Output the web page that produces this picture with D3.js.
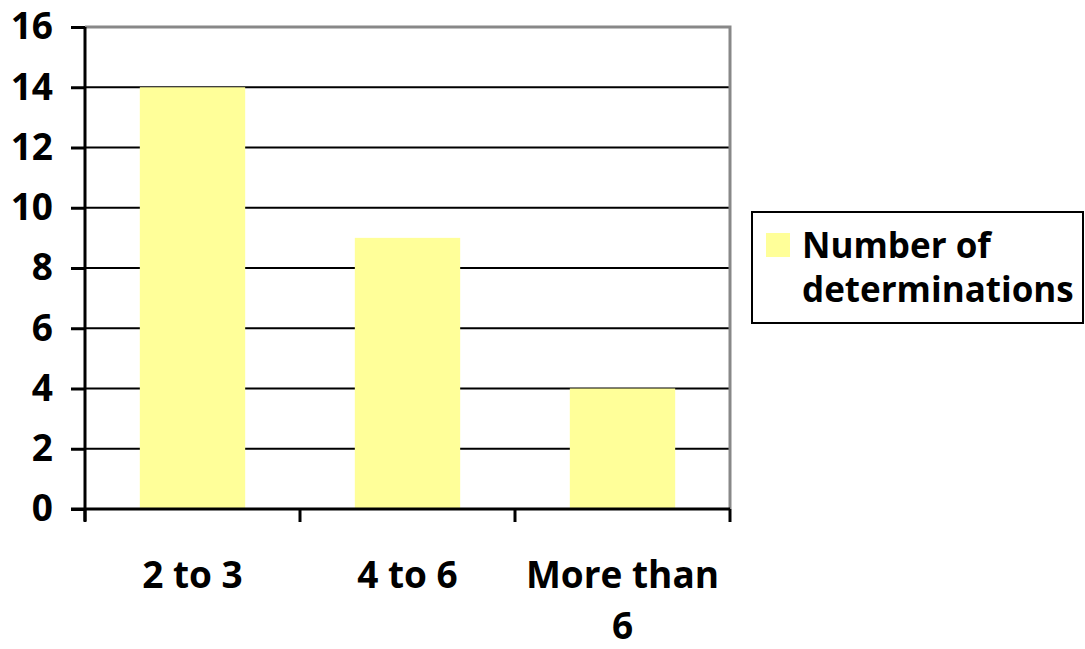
<!DOCTYPE html>
<html>
<head>
<meta charset="utf-8">
<script src="https://cdn.jsdelivr.net/npm/d3@7"></script>
<style>
  html, body { margin: 0; padding: 0; background: #fff; }
  svg { display: block; }
  text { font-family: "Open Sans", "Liberation Sans", sans-serif; font-weight: 700; fill: #000; }
</style>
</head>
<body>
<svg id="chart" width="1085" height="649"></svg>
<script>
// Data
const categories = [["2 to 3"], ["4 to 6"], ["More than", "6"]];
const categoryKeys = ["2 to 3", "4 to 6", "More than 6"];
const values = [14, 9, 4];
const yTicks = [0, 2, 4, 6, 8, 10, 12, 14, 16];
const seriesName = ["Number of", "determinations"];

const svg = d3.select("#chart");
const plot = { left: 85, right: 730, top: 27, bottom: 509 };

const x = d3.scaleBand()
  .domain(categoryKeys)
  .range([plot.left, plot.right])
  .paddingInner(0.51)
  .paddingOuter(0.255);

const step = x.step();

const y = d3.scaleLinear().domain([0, 16]).range([plot.bottom, plot.top]);

// Horizontal gridlines
svg.append("g")
  .selectAll("line")
  .data(yTicks.filter(d => d > 0 && d < 16))
  .join("line")
  .attr("x1", plot.left).attr("x2", plot.right)
  .attr("y1", d => y(d)).attr("y2", d => y(d))
  .attr("stroke", "#000").attr("stroke-width", 2);

// Bars
svg.append("g")
  .selectAll("rect")
  .data(values)
  .join("rect")
  .attr("x", (d, i) => x(categoryKeys[i]))
  .attr("width", x.bandwidth())
  .attr("y", d => y(d))
  .attr("height", d => y(0) - y(d))
  .attr("fill", "#FFFF99");

// Top and right frame (gray)
svg.append("path")
  .attr("d", `M${plot.left},${plot.top}H${plot.right}V${plot.bottom}`)
  .attr("fill", "none").attr("stroke", "#888").attr("stroke-width", 3);

// Y axis
const yAxis = d3.axisLeft(y).tickValues(yTicks).tickSize(14).tickPadding(18);
const gy = svg.append("g").attr("transform", `translate(${plot.left},0)`).call(yAxis);
gy.select(".domain").attr("stroke", "#000").attr("stroke-width", 3).attr("d", `M0,${plot.top}V${plot.bottom + 12}`);
gy.selectAll(".tick line").attr("stroke", "#000").attr("stroke-width", 3);
gy.selectAll(".tick text")
  .attr("font-family", "'Open Sans', sans-serif")
  .attr("font-weight", 700)
  .attr("font-size", 37)
  .attr("fill", "#000");

// X axis baseline and ticks at category boundaries
const xBoundaries = [0, 1, 2, 3].map(i => plot.left + i * step);
svg.append("line")
  .attr("x1", plot.left - 14).attr("x2", plot.right)
  .attr("y1", y(0)).attr("y2", y(0))
  .attr("stroke", "#000").attr("stroke-width", 3);
svg.append("g")
  .selectAll("line")
  .data(xBoundaries)
  .join("line")
  .attr("x1", d => d).attr("x2", d => d)
  .attr("y1", y(0)).attr("y2", y(0) + 13)
  .attr("stroke", "#000").attr("stroke-width", 3);

// X category labels
const xl = svg.append("g")
  .selectAll("text")
  .data(categories)
  .join("text")
  .attr("text-anchor", "middle")
  .attr("font-size", 37)
  .attr("x", (d, i) => x(categoryKeys[i]) + x.bandwidth() / 2)
  .attr("y", 588);
xl.selectAll("tspan")
  .data((d, i) => d.map(t => ({ t, i })))
  .join("tspan")
  .attr("x", d => x(categoryKeys[d.i]) + x.bandwidth() / 2)
  .attr("dy", (d, j) => j === 0 ? 0 : 51)
  .text(d => d.t);

// Legend
const lg = svg.append("g");
lg.append("rect")
  .attr("x", 752).attr("y", 212).attr("width", 331).attr("height", 111)
  .attr("fill", "#fff").attr("stroke", "#000").attr("stroke-width", 2);
lg.append("rect")
  .attr("x", 766).attr("y", 233).attr("width", 24).attr("height", 24)
  .attr("fill", "#FFFF99");
lg.append("text")
  .attr("font-size", 35)
  .selectAll("tspan")
  .data(seriesName)
  .join("tspan")
  .attr("x", 802)
  .attr("y", (d, i) => 258 + i * 44)
  .text(d => d);
</script>
</body>
</html>
